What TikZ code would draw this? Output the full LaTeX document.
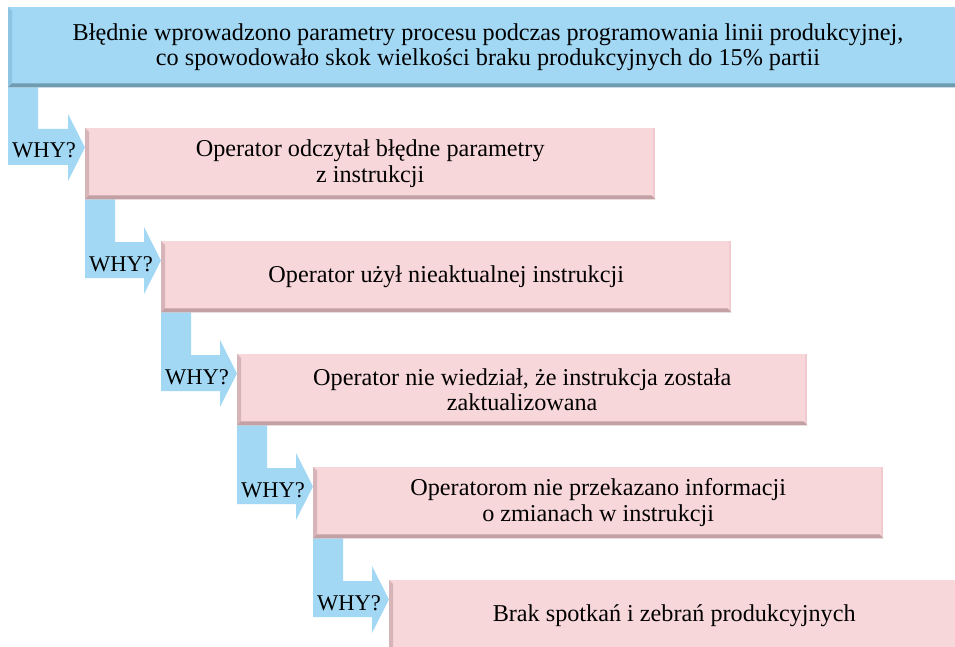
\documentclass[tikz,border=0pt]{standalone}
\usepackage{fontspec}
\setmainfont{Liberation Serif}
\usetikzlibrary{calc}

\definecolor{skyfill}{RGB}{162,216,244}
\definecolor{skyedge}{RGB}{112,156,178}
\definecolor{skyside}{RGB}{140,196,226}
\definecolor{rosefill}{RGB}{248,215,218}
\definecolor{roseedge}{RGB}{194,160,163}
\definecolor{roseside}{RGB}{214,180,184}
\definecolor{roseright}{RGB}{240,202,206}

\tikzset{
  txt/.style={font=\fontsize{24.2pt}{25.5pt}\selectfont, text=black},
  causebox/.style={fill=rosefill, draw=none, anchor=north west,
    minimum width=570pt, minimum height=71pt, inner sep=0pt},
  headbox/.style={fill=skyfill, draw=none, anchor=north west,
    minimum width=960pt, minimum height=80pt, inner sep=0pt},
  whyarrow/.style={fill=skyfill, draw=none},
  whytext/.style={font=\fontsize{22.5pt}{25pt}\selectfont, text=black,
    inner sep=0pt, anchor=base west},
}

% bevelled lower and left edges of a box
\newcommand{\bevel}[3]{%
  \fill[#2] (#1.north west) -- ($(#1.north west)+(4,4)$) -- ($(#1.south west)+(4,-4)$) -- (#1.south west) -- cycle;
  \fill[#3] (#1.south west) -- (#1.south east) -- ($(#1.south east)+(-4,-4)$) -- ($(#1.south west)+(4,-4)$) -- cycle;
}

\begin{document}
\begin{tikzpicture}[x=1pt,y=-1pt]
  \useasboundingbox (0,0) rectangle (955,647);
  \clip (0,0) rectangle (955,647);

  % problem statement and the chain of causes
  \node[headbox] (top) at (8,7) {};
  \node[causebox] (b1) at (85,128) {};
  \node[causebox] (b2) at (161,241) {};
  \node[causebox] (b3) at (237,354) {};
  \node[causebox] (b4) at (313,467) {};
  \node[causebox] (b5) at (389,580) {};

  % WHY? arrows from each box down into the next one
  \foreach \prev/\cur [count=\i] in {top/b1, b1/b2, b2/b3, b3/b4, b4/b5} {
    \fill[whyarrow] let \p1=(\prev.south west), \p2=(\cur.north west) in
      (\x1,\y1) -- (\x1+30pt,\y1) -- (\x1+30pt,\y2-1pt) -- (\x2-17pt,\y2-1pt)
      -- (\x2-17pt,\y2+14pt) -- (\x2,\y2-19.5pt) -- (\x2-17pt,\y2-53pt)
      -- (\x2-17pt,\y2-37pt) -- (\x1,\y2-37pt) -- cycle;
    \node[whytext] (w\i) at ($(\prev.south west |- \cur.north west)+(4,30)$) {WHY?};
  }

  % boxes laid again over the arrow tips, with their bevels
  \foreach \b in {b1,b2,b3,b4,b5} {
    \fill[rosefill] (\b.north west) rectangle (\b.south east);
    \fill[roseright] ($(\b.north east)+(-2,0)$) rectangle (\b.south east);
    \bevel{\b}{roseside}{roseedge}
  }
  \bevel{top}{skyside}{skyedge}

  \node[txt, align=center] (t0) at (488,47)
    {Błędnie wprowadzono parametry procesu podczas programowania linii produkcyjnej,\\
     co spowodowało skok wielkości braku produkcyjnych do 15\% partii};
  \node[txt, align=center] (t1) at (b1.center) {Operator odczytał błędne parametry\\z instrukcji};
  \node[txt, align=center] (t2) at (b2.center) {Operator użył nieaktualnej instrukcji};
  \node[txt, align=center] (t3) at (b3.center) {Operator nie wiedział, że instrukcja została\\zaktualizowana};
  \node[txt, align=center] (t4) at (b4.center) {Operatorom nie przekazano informacji\\o zmianach w instrukcji};
  \node[txt, align=center] (t5) at (b5.center) {Brak spotkań i zebrań produkcyjnych};
\end{tikzpicture}
\end{document}
